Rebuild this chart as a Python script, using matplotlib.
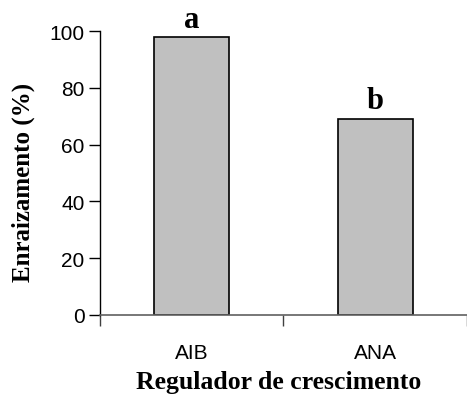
import matplotlib
matplotlib.use("Agg")
import matplotlib.pyplot as plt
from matplotlib.ticker import FixedLocator

# data
reguladores = ["AIB", "ANA"]
enraizamento = [97.8, 69.2]
letras = ["a", "b"]

fig = plt.figure(figsize=(4.67, 4.02), dpi=100)
ax = fig.add_axes([0.214, 0.214, 0.786, 0.706])

x = range(len(reguladores))
ax.bar(x, enraizamento, width=0.41, color="#c0c0c0", edgecolor="black", linewidth=1.2, zorder=2)

for xi, v, l in zip(x, enraizamento, letras):
    ax.text(xi, v + 1.2, l, ha="center", va="bottom", fontsize=22,
            fontweight="bold", family="Liberation Serif")

ax.set_xlim(-0.5, len(reguladores) - 0.5)
ax.set_ylim(0, 100)
ax.set_yticks(range(0, 101, 20))
ax.set_xticks(list(x))
ax.set_xticklabels(reguladores)
ax.xaxis.set_minor_locator(FixedLocator([-0.5, 0.5, 1.5]))
ax.tick_params(axis="x", which="major", length=0, pad=20)
ax.tick_params(axis="x", which="minor", length=8, width=1, color="#404040", direction="out")
ax.tick_params(axis="y", length=8, width=1, direction="out", pad=3)
for lab in ax.get_xticklabels() + ax.get_yticklabels():
    lab.set_family("Liberation Sans")
    lab.set_fontsize(15)

ax.spines["top"].set_visible(False)
ax.spines["right"].set_visible(False)
ax.spines["left"].set_linewidth(1)
ax.spines["bottom"].set_linewidth(1.2)
ax.spines["bottom"].set_color("#606060")

ax.set_xlabel("Regulador de crescimento", fontsize=18.5, fontweight="bold",
              family="Liberation Serif")
ax.xaxis.set_label_coords(0.487, -0.195)
ax.set_ylabel("Enraizamento (%)", fontsize=18, fontweight="bold",
              family="Liberation Serif")
ax.yaxis.set_label_coords(-0.178, 0.472)

fig.savefig("out.png", dpi=100)
